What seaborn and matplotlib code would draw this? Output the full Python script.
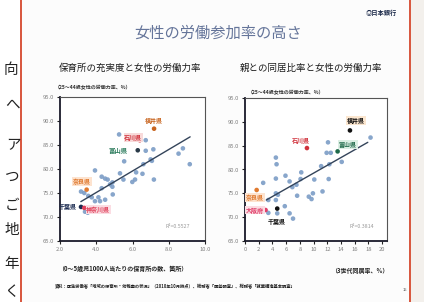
import numpy as np
import pandas as pd
import matplotlib
matplotlib.use("Agg")
import matplotlib.pyplot as plt
from matplotlib.patches import Rectangle
import seaborn as sns

# Left panel: nurseries per 1000 children (0-5) vs female labour force rate (25-44)
left_x = [5.26, 6.73, 6.73, 7.15, 8.78, 8.54, 9.16, 5.54, 7.07, 7.0, 6.6, 5.31, 6.2, 6.55, 6.14,
          5.99, 7.18, 4.89, 5.5, 4.49, 4.63, 4.76, 4.89, 4.91, 3.93, 4.3, 4.3, 3.16, 3.34, 3.56,
          3.75, 4.12, 4.21, 3.38, 3.53, 3.93, 4.49]
left_y = [87.2, 86.0, 83.8, 84.1, 84.3, 83.2, 81.0, 81.6, 81.7, 82.0, 81.0, 79.1, 79.3, 79.0, 77.8,
          77.3, 77.8, 77.2, 77.8, 78.0, 77.8, 76.8, 76.3, 74.7, 79.7, 78.4, 76.0, 75.3, 75.0, 74.4,
          74.1, 74.1, 73.3, 71.1, 70.9, 73.3, 73.6]

# Right panel: three-generation co-residence rate vs female labour force rate
right_x = [18.3, 12.1, 11.9, 12.5, 14.1, 11.1, 12.3, 4.5, 4.6, 2.65, 4.5, 5.9, 6.5, 8.2, 8.1,
           7.5, 6.9, 10.1, 12.2, 11.3, 9.9, 9.3, 9.7, 7.6, 4.5, 4.8, 4.5, 3.4, 5.8, 6.5,
           7.0, 4.7, 3.4]
right_y = [86.7, 85.7, 83.5, 83.5, 81.6, 80.7, 81.1, 82.5, 81.1, 77.2, 78.1, 78.7, 77.5, 79.4, 78.0,
           76.8, 76.3, 77.9, 78.0, 75.4, 75.0, 74.3, 73.8, 74.5, 75.0, 74.7, 73.6, 73.6, 72.3, 70.8,
           69.7, 70.8, 70.9]

# highlighted prefectures
pref_names = ["福井県", "石川県", "富山県", "奈良県", "千葉県", "神奈川県"]
pref_left_x = [7.19, 6.4, 6.29, 3.47, 3.16, 3.34]
pref_left_y = [88.4, 86.0, 83.9, 75.7, 72.1, 71.9]
pref_right_x = [15.3, 9.03, 13.5, 1.7, 4.7, 3.0]
pref_right_y = [88.2, 84.5, 83.8, 75.7, 71.8, 71.5]
pref_left_colors = ["#c8641e", "#d0303a", "#2a3a48", "#e07a30", "#1a2a50", "#e0405a"]
pref_right_colors = ["#111111", "#d0303a", "#1f6a4a", "#e07a30", "#111111", "#e0406a"]

# fitted lines
trend_left_x = [3.15, 9.18]
trend_left_y = [73.2, 86.7]
trend_right_x = [3.1, 17.9]
trend_right_y = [73.6, 85.7]

left_xticks = [2, 4, 6, 8, 10]
right_xticks = [0, 2, 4, 6, 8, 10, 12, 14, 16, 18, 20]
yticks = [65, 70, 75, 80, 85, 90, 95]

sns.set_theme(style="white")
plt.rcParams["font.family"] = ["Noto Sans CJK JP", "DejaVu Sans"]

W, H = 424, 302
fig = plt.figure(figsize=(W / 100, H / 100), dpi=100)
fig.patch.set_facecolor("#f3f0ec")


def px(x0, y0, w, h):
    return [x0 / W, 1 - (y0 + h) / H, w / W, h / H]


# book page on the left and the slide
fig.patches.append(Rectangle((0, 0), 21 / W, 1, transform=fig.transFigure,
                             facecolor="white", edgecolor="none", zorder=-10))
fig.patches.append(Rectangle((21 / W, -0.02), 389 / W, 1.03, transform=fig.transFigure,
                             facecolor="#fcfcfc", edgecolor="#d8553c", lw=1.4, zorder=-10))
for ch, cx, cy in [("向", 11, 70), ("へ", 12, 106), ("ア", 14, 145), ("つ", 12, 177),
                   ("ご", 12, 206), ("地", 12, 230), ("年", 12, 264), ("く", 12, 292)]:
    fig.text(cx / W, 1 - cy / H, ch, fontsize=10.5, ha="center", va="center", color="#222222")

fig.text(218 / W, 1 - 33 / H, "女性の労働参加率の高さ", fontsize=11, ha="center", va="center",
         color="#65759a")
fig.text(381 / W, 1 - 12 / H, "◎日本銀行", fontsize=4.5, ha="center", va="center",
         color="#1c2a4a", weight="bold")

fig.text(130 / W, 1 - 68 / H, "保育所の充実度と女性の労働力率", fontsize=6.8, ha="center",
         va="center", color="#1a1a1a")
fig.text(311 / W, 1 - 68 / H, "親との同居比率と女性の労働力率", fontsize=6.8, ha="center",
         va="center", color="#1a1a1a")

fig.text(55 / W, 1 - 88 / H, "（25～44歳女性の労働力率、%）", fontsize=3.6, ha="left",
         va="center", color="#333333", weight="bold")
fig.text(248 / W, 1 - 93 / H, "（25～44歳女性の労働力率、%）", fontsize=3.6, ha="left",
         va="center", color="#333333", weight="bold")
fig.text(58 / W, 1 - 268 / H, "（0～5歳児1000人当たりの保育所の数、箇所）", fontsize=4.3,
         ha="left", va="center", color="#222222", weight="bold")
fig.text(388 / W, 1 - 270 / H, "（3世代同居率、%）", fontsize=4.3, ha="right", va="center",
         color="#222222", weight="bold")
fig.text(55 / W, 1 - 287 / H,
         "資料：厚生労働省「地域の保育所・幼稚園の状況」（2010年10月時点）、総務省「国勢調査」、総務省「就業構造基本調査」",
         fontsize=3.1, ha="left", va="center", color="#222222", weight="bold")
fig.text(405 / W, 1 - 290 / H, "15", fontsize=3, ha="center", va="center", color="#444444")


def style_axes(ax, xlim, xticks, xfmt):
    ax.set_xlim(*xlim)
    ax.set_ylim(65, 95)
    ax.set_xticks(xticks)
    ax.set_xticklabels([xfmt.format(v) for v in xticks])
    ax.set_yticks(yticks)
    ax.set_yticklabels(["{:.1f}".format(v) for v in yticks])
    ax.tick_params(axis="both", labelsize=4.2, labelcolor="#808080", length=2, width=0.8,
                   color="#222222", pad=2, direction="out", bottom=True, left=True)
    ax.set_xlabel("")
    ax.set_ylabel("")
    ax.set_facecolor("white")
    for side in ["top", "right"]:
        ax.spines[side].set_color("#555555")
        ax.spines[side].set_linewidth(0.8)
    for side in ["left", "bottom"]:
        ax.spines[side].set_color("#1a1a2a")
        ax.spines[side].set_linewidth(1.3)


point_color = "#7b9cc6"

# ---- left panel
axL = fig.add_axes(px(60, 97, 145, 144))
sns.scatterplot(x=left_x, y=left_y, ax=axL, color=point_color, s=11, edgecolor="none", alpha=0.9)
sns.lineplot(x=trend_left_x, y=trend_left_y, ax=axL, color="#34445a", lw=1.0)
sns.scatterplot(x=pref_left_x, y=pref_left_y, ax=axL, hue=pref_names,
                palette=dict(zip(pref_names, pref_left_colors)), s=11, edgecolor="none",
                legend=False)
style_axes(axL, (2, 10), left_xticks, "{:.1f}")

bx = dict(boxstyle="square,pad=0.15", lw=0)
axL.text(7.19, 90.1, "福井県", fontsize=4.3, color="#c8641e", ha="center", va="center", weight="bold")
axL.text(6.05, 86.6, "石川県", fontsize=4.3, color="#d0303a", ha="center", va="center", weight="bold",
         bbox=dict(bx, fc="#f8dada"))
axL.text(5.22, 83.9, "富山県", fontsize=4.6, color="#2e7d5e", ha="center", va="center", weight="bold")
axL.text(3.2, 77.4, "奈良県", fontsize=4.3, color="#e07a30", ha="center", va="center", weight="bold",
         bbox=dict(bx, fc="#fde3cf"))
axL.text(2.9, 72.1, "千葉県", fontsize=4.3, color="#1a2a50", ha="right", va="center", weight="bold",
         clip_on=False)
axL.text(4.12, 71.6, "神奈川県", fontsize=4.3, color="#e0405a", ha="center", va="center",
         weight="bold", bbox=dict(bx, fc="#fbdde3"))
axL.text(8.5, 68.0, "R²=0.5527", fontsize=3.8, color="#999999", ha="center", va="center")

# ---- right panel
axR = fig.add_axes(px(245, 98, 142, 143))
sns.scatterplot(x=right_x, y=right_y, ax=axR, color=point_color, s=11, edgecolor="none", alpha=0.9)
sns.lineplot(x=trend_right_x, y=trend_right_y, ax=axR, color="#34445a", lw=1.0)
sns.scatterplot(x=pref_right_x, y=pref_right_y, ax=axR, hue=pref_names,
                palette=dict(zip(pref_names, pref_right_colors)), s=11, edgecolor="none",
                legend=False)
style_axes(axR, (0, 20.7), right_xticks, "{:d}")

axR.text(16.2, 90.3, "福井県", fontsize=4.3, color="#111111", ha="center", va="center", weight="bold",
         bbox=dict(bx, fc="#fbe6cf"))
axR.text(8.2, 86.0, "石川県", fontsize=4.3, color="#d0303a", ha="center", va="center", weight="bold")
axR.text(15.0, 85.3, "富山県", fontsize=4.3, color="#1f6a4a", ha="center", va="center", weight="bold",
         bbox=dict(bx, fc="#dcefe4"))
axR.text(1.45, 74.2, "奈良県", fontsize=4.3, color="#e07a30", ha="center", va="center", weight="bold",
         bbox=dict(bx, fc="#fde3cf"))
axR.text(1.45, 71.5, "大阪府", fontsize=4.3, color="#e0406a", ha="center", va="center", weight="bold",
         bbox=dict(bx, fc="#fbdde3"))
axR.text(4.6, 69.0, "千葉県", fontsize=4.3, color="#111111", ha="center", va="center", weight="bold")
axR.text(17.0, 68.0, "R²=0.3814", fontsize=3.8, color="#999999", ha="center", va="center")

fig.savefig("out.png", dpi=100, facecolor=fig.get_facecolor())
